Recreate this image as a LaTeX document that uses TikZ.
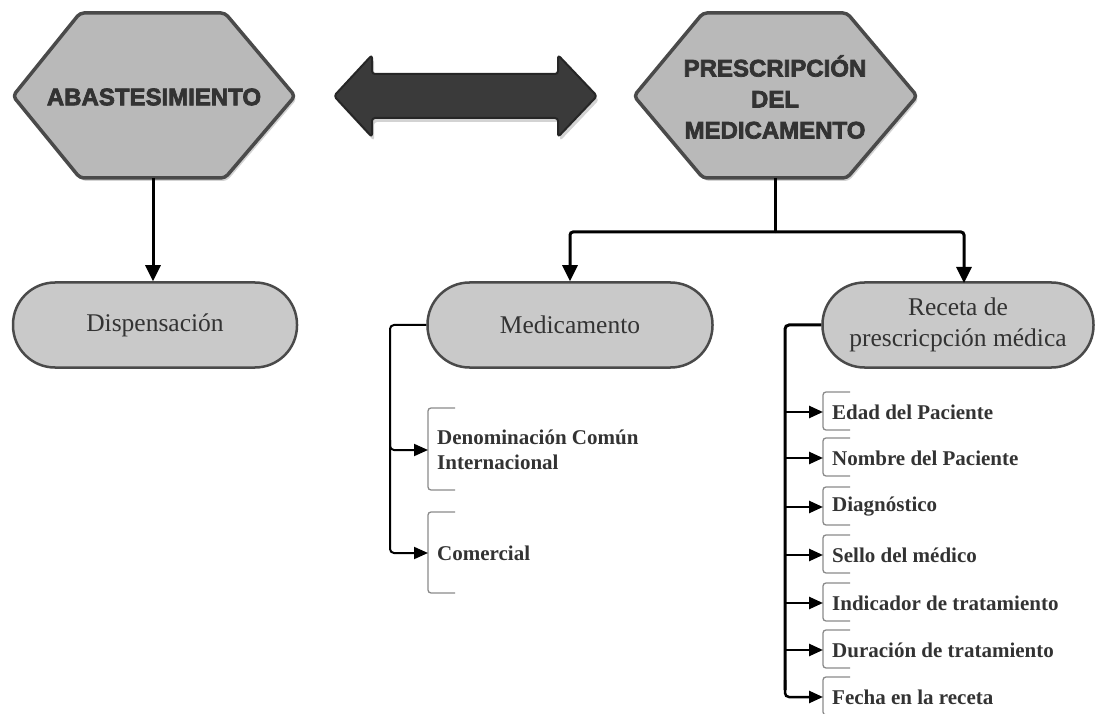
\documentclass[tikz,border=0pt]{standalone}
\usepackage{fontspec}
\setmainfont{Liberation Serif}
\newfontfamily\titlefont{Liberation Sans}[BoldFeatures={FakeBold=3}]
\usetikzlibrary{arrows.meta,shadows}
\definecolor{hexfill}{HTML}{B9B9B9}
\definecolor{stadfill}{HTML}{C9C9C9}
\definecolor{edgegray}{HTML}{4A4A4A}
\definecolor{arrowfill}{HTML}{3A3A3A}
\definecolor{txtgray}{HTML}{333333}
\definecolor{brgray}{HTML}{8A8A8A}
\tikzset{
  hexshape/.style={fill=hexfill, draw=edgegray, line width=3.5pt, rounded corners=4pt, line join=round,
    drop shadow={opacity=0.35, shadow xshift=2pt, shadow yshift=-3pt}},
  hextext/.style={font=\titlefont\bfseries\fontsize{24}{31}\selectfont, text=txtgray, align=center},
  stadium/.style={rectangle, rounded corners=42pt, fill=stadfill, draw=edgegray, line width=2.5pt,
    minimum height=85pt, align=center, text=txtgray, font=\fontsize{25.5}{31}\selectfont, inner sep=0pt},
  mainconn/.style={draw=black, line width=3pt, rounded corners=3pt, -{Triangle[length=16pt,width=15pt]}},
  subconn/.style={draw=black, line width=2pt, rounded corners=4pt, -{Triangle[length=14pt,width=12pt]}},
  bracketline/.style={draw=brgray, line width=1.3pt, rounded corners=3pt},
  leaf/.style={anchor=west, align=left, text=txtgray, font=\bfseries\fontsize{21}{24.5}\selectfont, inner sep=0pt}
}
\begin{document}
\begin{tikzpicture}[x=1pt,y=-1pt]
\useasboundingbox (0,0) rectangle (1096,714);

% left hexagon
\path[hexshape] (13,96) -- (80,13) -- (225,13) -- (295,96) -- (225,178) -- (80,178) -- cycle;
\node[hextext] (abas) at (154,97) {ABASTESIMIENTO};
\coordinate (abasB) at (153,178);

% right hexagon
\path[hexshape] (634,96) -- (703,13) -- (847,13) -- (917,96) -- (847,178) -- (703,178) -- cycle;
\node[hextext] (presc) at (775,97) {PRESCRIPCIÓN\\DEL\\MEDICAMENTO};
\coordinate (prescB) at (775,178);

% double arrow
\path[fill=arrowfill, draw=black!85, line width=2pt, rounded corners=3pt, line join=round,
  drop shadow={opacity=0.35, shadow xshift=2pt, shadow yshift=-4pt}]
  (334,96) -- (372,55) -- (372,74) -- (558,74) -- (558,55) -- (597,96) -- (558,137) -- (558,118)
  -- (372,118) -- (372,137) -- cycle;

% stadium nodes
\node[stadium, minimum width=284pt] (disp) at (155,325) {Dispensación};
\node[stadium, minimum width=285pt] (med) at (570,325) {Medicamento};
\node[stadium, minimum width=271pt] (rec) at (958,325) {Receta de\\prescricpción médica};

% main connectors
\draw[mainconn] (abasB) -- (disp.north -| abasB);
\coordinate (split) at (775,232);
\draw[line width=3pt, rounded corners=3pt] (prescB) -- (split);
\draw[mainconn] (split) -- (570,232) -- (med.north);
\draw[mainconn] (split) -- (964,232) -- (964,283);

% Medicamento subtree
\node[leaf] (dci) at (437,450) {Denominación Común\\Internacional};
\node[leaf] (com) at (437,553) {Comercial};
\draw[bracketline] (455,408) -- (428,408) -- (428,490) -- (455,490);
\draw[bracketline] (455,512) -- (428,512) -- (428,593) -- (455,593);
\draw[subconn] (med.west) -- (390,325) -- (390,450) -- (428,450);
\draw[subconn] (390,440) -- (390,553) -- (428,553);

% Receta subtree
\foreach \nm/\yy/\tx in {edad/412/Edad del Paciente, nom/458/Nombre del Paciente, diag/507/Diagnóstico,
  sello/555/Sello del médico, ind/603/Indicador de tratamiento, dur/650/Duración de tratamiento,
  fecha/697/Fecha en la receta}{
  \node[leaf] (\nm) at (832,\yy) {\tx};
  \draw[bracketline] (850,\yy-20) -- (823,\yy-20) -- (823,\yy+18) -- (850,\yy+18);
}
\draw[line width=3pt, rounded corners=4pt] (rec.west) -- (785,325) -- (785,690);
\foreach \nm/\yy in {edad/412, nom/458, diag/507, sello/555, ind/603, dur/650}{
  \draw[subconn, line width=2.5pt] (785,\yy) -- (823,\yy);
}
\draw[subconn, line width=2.5pt] (785,680) -- (785,697) -- (823,697);
\end{tikzpicture}
\end{document}
